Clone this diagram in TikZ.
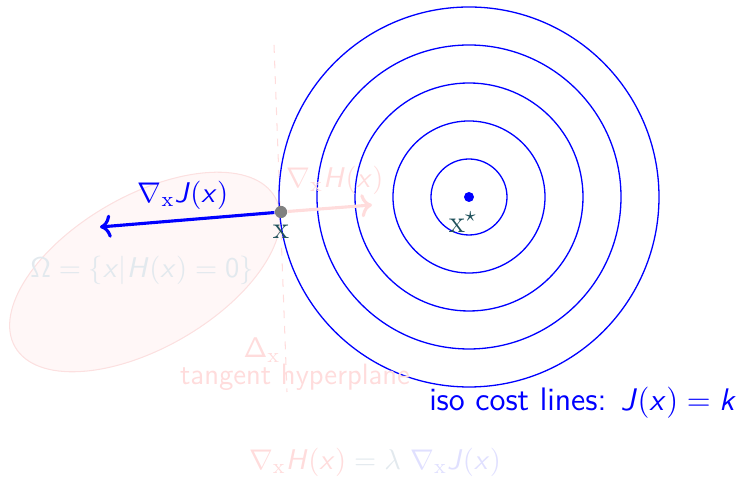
\documentclass[tikz,border=0pt]{standalone}
\usepackage{amsmath}
\usepackage{xcolor}
\usepackage{tikz}
\usetikzlibrary{arrows.meta, positioning, calc}

% sans serif math letters, as on a slide
\DeclareMathAlphabet{\mathsfit}{OT1}{cmss}{m}{sl}

\definecolor{pointteal}{RGB}{30,80,90}
\definecolor{hpink}{RGB}{255,220,220}
\definecolor{omegaline}{RGB}{252,224,224}
\definecolor{omegafill}{RGB}{255,247,247}
\definecolor{omegagray}{RGB}{226,233,238}
\definecolor{jfaint}{RGB}{224,224,255}

\newcommand{\gradx}{\nabla_{\mathrm{x}}}

\begin{document}
\begin{tikzpicture}[x=0.0135cm, y=-0.0135cm, font=\sffamily\fontsize{11.3}{13}\selectfont]
\useasboundingbox (0,0) rectangle (744,480);

% Constraint set Omega (rotated ellipse)
\draw[omegaline, fill=omegafill] (145,272) ellipse [x radius=150, y radius=76, rotate=30];
\node[omegagray] (omega) at (142,270) {$\mathsf{\Omega} = \{\mathsfit{x}|\mathsfit{H}(\mathsfit{x}) = \mathsf{0}\}$};

% tangent hyperplane at x
\coordinate (tantop) at (274,45);
\coordinate (tanbot) at (287,392);
\draw[dashed, hpink] (tantop) -- (tanbot);

% iso cost lines around the optimum
\node[circle, fill=blue, inner sep=0pt, minimum size=0.135cm] (xstar) at (469,197) {};
\foreach \r in {38,76,114,152,190}
  \draw[blue, line width=0.5pt] (xstar.center) circle (\r);
\node[text=pointteal, font=\large] (xstarlabel) at (463,222) {$\mathrm{x}^{\star}$};

% point x on the constraint
\node[circle, fill=gray, inner sep=0pt, minimum size=0.165cm] (xpt) at (281,212) {};
\node[text=pointteal, font=\large] (xlabel) at (281,232) {$\mathrm{x}$};

% gradients at x
\coordinate (gradj) at (100,227);
\coordinate (gradh) at (372,205);
\draw[->, very thick, blue] (xpt) -- (gradj);
\draw[->, very thick, hpink] (xpt) -- (gradh);
\node[blue] (gradjlabel) at (183,195) {$\gradx\mathsfit{J}(\mathsfit{x})$};
\node[text=hpink] (gradhlabel) at (335,180) {$\gradx\mathsfit{H}(\mathsfit{x})$};

% tangent hyperplane labels
\node[text=hpink] (deltalabel) at (262,350) {$\mathsf{\Delta}_{\mathrm{x}}$};
\node[text=hpink] (tanlabel) at (295,377) {tangent hyperplane};

\node[blue, font=\sffamily\fontsize{12.5}{15}\selectfont] (isolabel) at (583,403) {iso cost lines: $\mathsfit{J}(\mathsfit{x}) = \mathsfit{k}$};

% Lagrange condition
\node[text=omegagray] (lagrange) at (375,462) {$\textcolor{hpink}{\gradx\mathsfit{H}(\mathsfit{x})} = \lambda\ \textcolor{jfaint}{\gradx\mathsfit{J}(\mathsfit{x})}$};

\end{tikzpicture}
\end{document}
